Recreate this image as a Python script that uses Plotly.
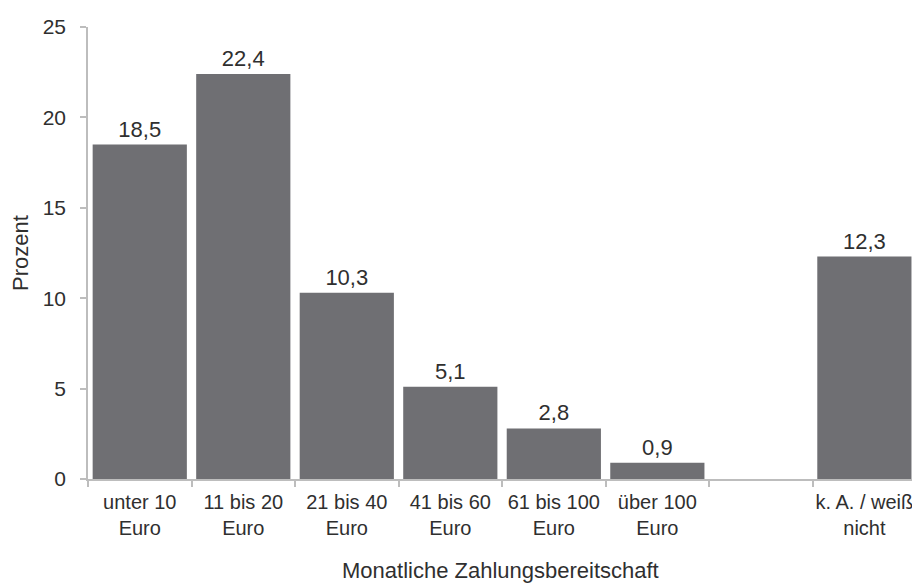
import plotly.graph_objects as go

categories = ["unter 10<br>Euro", "11 bis 20<br>Euro", "21 bis 40<br>Euro", "41 bis 60<br>Euro",
              "61 bis 100<br>Euro", "über 100<br>Euro", " ", "k. A. / weiß<br>nicht"]
values = [18.5, 22.4, 10.3, 5.1, 2.8, 0.9, None, 12.3]
y_ticks = [0, 5, 10, 15, 20, 25]

FONT = "Liberation Sans, Arial, sans-serif"
TXT = "#2f2f2f"
AX = "#bdbdbd"

fig = go.Figure(go.Bar(
    x=categories, y=values,
    marker=dict(color="#6f6f73", line=dict(width=0)),
    texttemplate="%{y:.1f}", textposition="outside",
    textfont=dict(family=FONT, size=22, color=TXT),
    cliponaxis=False,
))

fig.update_layout(
    width=912, height=585,
    margin=dict(l=88, r=0, t=27, b=106),
    paper_bgcolor="white", plot_bgcolor="white",
    separators=",.",
    bargap=0.09,
    showlegend=False,
    font=dict(family=FONT, color=TXT),
)
fig.update_xaxes(
    type="category", range=[-0.5, 7.46],
    showline=True, linecolor=AX, linewidth=1.5,
    ticks="outside", tickson="boundaries", ticklen=6, tickcolor=AX, tickwidth=1.5,
    tickfont=dict(family=FONT, size=20, color=TXT),
    ticklabelstandoff=4,
    showgrid=False, zeroline=False,
)
fig.update_yaxes(
    range=[0, 25], tickvals=y_ticks,
    showline=True, linecolor=AX, linewidth=1.5,
    ticks="outside", ticklen=6, tickcolor=AX, tickwidth=1.5,
    tickfont=dict(family=FONT, size=21, color=TXT),
    ticklabelstandoff=10,
    showgrid=False, zeroline=False,
    title=dict(text="Prozent", font=dict(family=FONT, size=22, color=TXT), standoff=8),
)
fig.add_annotation(
    text="Monatliche Zahlungsbereitschaft", xref="paper", yref="paper",
    x=0.5, y=-(570 - 479) / (479 - 27),
    xanchor="center", yanchor="middle", showarrow=False,
    font=dict(family=FONT, size=22, color=TXT),
)

fig.write_html("out.html")
